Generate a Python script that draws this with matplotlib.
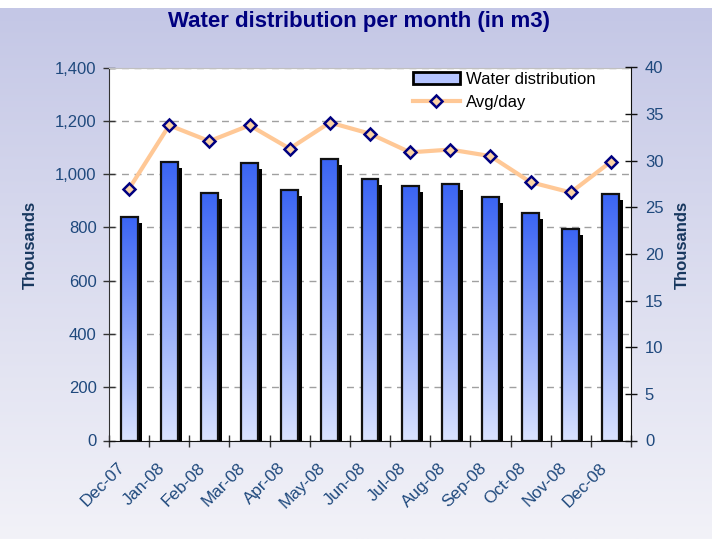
import numpy as np
import matplotlib
matplotlib.use('Agg')
import matplotlib.pyplot as plt
from matplotlib.patches import Patch
from matplotlib.lines import Line2D
from matplotlib.transforms import offset_copy
from matplotlib.colors import LinearSegmentedColormap
from matplotlib.ticker import FuncFormatter

plt.rcParams['font.family'] = ['Liberation Sans', 'DejaVu Sans']

months = ['Dec-07', 'Jan-08', 'Feb-08', 'Mar-08', 'Apr-08', 'May-08', 'Jun-08',
          'Jul-08', 'Aug-08', 'Sep-08', 'Oct-08', 'Nov-08', 'Dec-08']
water = [840, 1047, 930, 1043, 942, 1058, 983, 957, 964, 915, 855, 795, 927]
avg_day = [27.0, 33.8, 32.1, 33.8, 31.3, 34.1, 32.9, 30.9, 31.2, 30.5, 27.7, 26.6, 29.9]
left_ticks = [0, 200, 400, 600, 800, 1000, 1200, 1400]
right_ticks = [0, 5, 10, 15, 20, 25, 30, 35, 40]

TXT = '#1f497d'
W, H = 712, 539
fig = plt.figure(figsize=(W / 100, H / 100), dpi=100)
fig.patch.set_facecolor('white')

# background gradient
bg = fig.add_axes([0, 0, 1, 531 / H], zorder=-10)
grad = np.linspace(0, 1, 256).reshape(-1, 1)
bg.imshow(grad, aspect='auto', origin='lower', extent=[0, 1, 0, 1],
          cmap=LinearSegmentedColormap.from_list('bg', ['#f2f2f8', '#c4c7e6']))
bg.set_axis_off()

ax = fig.add_axes([109 / W, 1 - 440.5 / H, 522 / W, 373 / H])
ax.set_facecolor('white')
x = np.arange(len(months))

ax.yaxis.grid(True, linestyle=(0, (5, 4)), color='#a0a0a0', lw=1)
ax.set_axisbelow(True)

# shadows
shadow_tr = offset_copy(ax.transData, fig=fig, x=4, y=-6, units='dots')
ax.bar(x, water, width=0.42, color='black', transform=shadow_tr, zorder=2)

bars = ax.bar(x, water, width=0.42, facecolor='none', edgecolor='#111111', lw=1.6, zorder=4)
bar_cmap = LinearSegmentedColormap.from_list('bar', ['#dae3ff', '#3a64f5'])
for b in bars:
    x0, y0 = b.get_x(), b.get_y()
    w, h = b.get_width(), b.get_height()
    im = ax.imshow(grad, cmap=bar_cmap, origin='lower', aspect='auto',
                   extent=[x0, x0 + w, y0, y0 + h], zorder=3)
    im.set_clip_path(b)

ax.set_xlim(-0.5, len(months) - 0.5)
ax.set_ylim(0, 1400)
ax.set_yticks(left_ticks)
ax.yaxis.set_major_formatter(FuncFormatter(lambda v, p: f'{v:,.0f}'))
ax.tick_params(axis='y', direction='inout', length=8, width=1, color='#333333',
               labelsize=12, labelcolor=TXT, pad=5)
# label anchors sit slightly left of the category centre, as in the original
ax.set_xticks(x - 0.3)
ax.set_xticklabels(months, rotation=45, ha='right', rotation_mode='anchor',
                   fontsize=12.3, color=TXT)
ax.set_xticks(np.arange(len(months) + 1) - 0.5, minor=True)
ax.tick_params(axis='x', which='major', length=0, pad=14)
ax.tick_params(axis='x', which='minor', direction='inout', length=8, width=1, color='#333333')
ax.spines['top'].set_color('#c0c0c0')
ax.spines['right'].set_visible(False)
ax.spines['left'].set_color('#333333')
ax.spines['bottom'].set_color('#111111')
ax.set_ylabel('Thousands', fontsize=12, fontweight='bold', color='#17375e')
ax.yaxis.set_label_coords(-0.136, 0.525)

ax2 = ax.twinx()
ax2.plot(x, avg_day, color='#ffc896', lw=3, marker='D', ms=6.5,
         mfc='#fcd3a4', mec='#000080', mew=1.8, zorder=5, clip_on=False)
ax2.set_ylim(0, 40)
ax2.set_yticks(right_ticks)
ax2.tick_params(axis='y', direction='inout', length=8, width=1, color='#111111',
                labelsize=12, labelcolor=TXT, pad=6)
for s in ['top', 'left', 'bottom']:
    ax2.spines[s].set_visible(False)
ax2.spines['right'].set_color('#111111')
ax2.set_ylabel('Thousands', fontsize=12, fontweight='bold', color='#17375e', rotation=90)
ax2.yaxis.set_label_coords(1.084, 0.525)

handles = [Patch(facecolor='#b5c4ff', edgecolor='black', lw=2),
           Line2D([], [], color='#ffc896', lw=3, marker='D', ms=6.5,
                  mfc='#fcd3a4', mec='#000080', mew=1.8)]
ax2.legend(handles, ['Water distribution', 'Avg/day'], loc='upper left',
           bbox_to_anchor=(413 / W, 1 - 72 / H), bbox_transform=fig.transFigure,
           frameon=False, fontsize=12, borderpad=0, borderaxespad=0,
           handlelength=2.8, handletextpad=0.4, labelspacing=0.5)

fig.text(359 / W, 1 - 22 / H, 'Water distribution per month (in m3)', ha='center',
         va='center', fontsize=16, fontweight='bold', color='#000080')

fig.savefig('out.png', dpi=100)
